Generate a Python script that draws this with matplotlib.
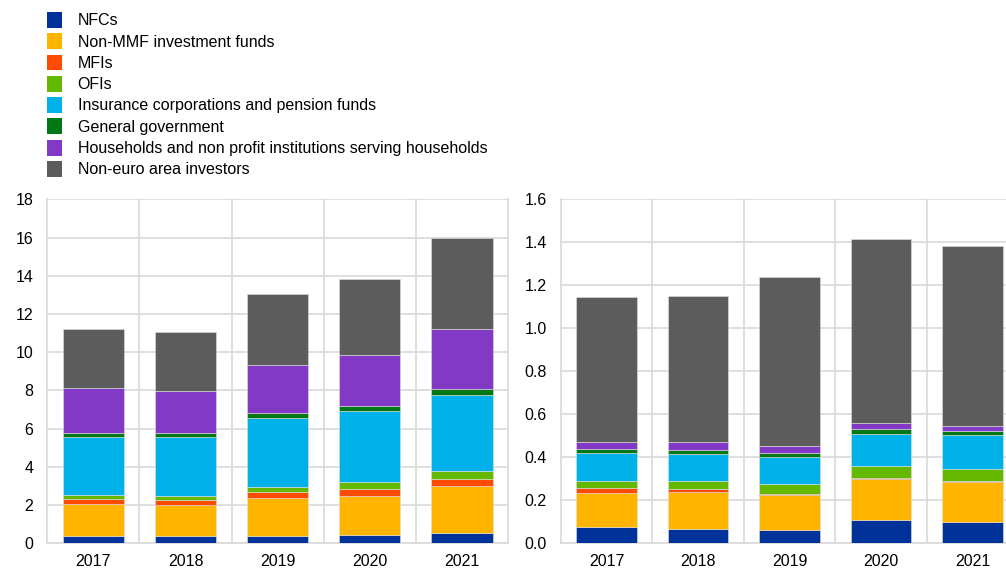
import numpy as np
import matplotlib
matplotlib.use('Agg')
import matplotlib.pyplot as plt
from matplotlib.patches import Patch

plt.rcParams['font.family'] = ['Liberation Sans', 'DejaVu Sans']

years = ['2017', '2018', '2019', '2020', '2021']
sectors = ['NFCs', 'Non-MMF investment funds', 'MFIs', 'OFIs',
           'Insurance corporations and pension funds', 'General government',
           'Households and non profit institutions serving households',
           'Non-euro area investors']
colors = ['#003299', '#FFB400', '#FF4B00', '#65B800', '#00B1EA', '#007816',
          '#8139C6', '#5C5C5C']

# left panel, per sector
left_nfc = [0.38, 0.37, 0.40, 0.44, 0.54]
left_nmmf = [1.66, 1.62, 1.95, 2.05, 2.46]
left_mfi = [0.28, 0.30, 0.32, 0.34, 0.35]
left_ofi = [0.19, 0.17, 0.26, 0.40, 0.42]
left_icpf = [3.05, 3.10, 3.61, 3.69, 3.97]
left_gg = [0.23, 0.23, 0.26, 0.28, 0.34]
left_hh = [2.34, 2.16, 2.51, 2.64, 3.12]
left_ne = [3.09, 3.11, 3.72, 4.01, 4.76]

# right panel, per sector
right_nfc = [0.076, 0.068, 0.062, 0.110, 0.098]
right_nmmf = [0.160, 0.171, 0.164, 0.188, 0.189]
right_mfi = [0.023, 0.014, 0.003, 0.006, 0.001]
right_ofi = [0.029, 0.035, 0.045, 0.054, 0.058]
right_icpf = [0.132, 0.128, 0.129, 0.151, 0.158]
right_gg = [0.017, 0.020, 0.017, 0.024, 0.017]
right_hh = [0.033, 0.034, 0.031, 0.025, 0.025]
right_ne = [0.676, 0.682, 0.786, 0.856, 0.838]

left_data = [left_nfc, left_nmmf, left_mfi, left_ofi, left_icpf, left_gg, left_hh, left_ne]
right_data = [right_nfc, right_nmmf, right_mfi, right_ofi, right_icpf, right_gg, right_hh, right_ne]

grid_col = '#d9d9d9'
fs = 11.5

fig = plt.figure(figsize=(10.06, 5.68), dpi=100)
ax1 = fig.add_axes([0.047, 0.0435, 0.458, 0.6056])
ax2 = fig.add_axes([0.5574, 0.0435, 0.4548, 0.6056])


def stacked(ax, data, ymax, step, fmt):
    x = np.arange(len(years))
    bottom = np.zeros(len(years))
    for vals, c in zip(data, colors):
        ax.bar(x, vals, bottom=bottom, width=0.665, color=c,
               edgecolor='#e0e0e0', linewidth=0.4, zorder=3)
        bottom += np.array(vals)
    ax.set_xlim(-0.5, len(years) - 0.5)
    ax.set_ylim(0, ymax)
    ax.set_yticks(np.arange(0, ymax + step / 2, step))
    ax.set_yticklabels([fmt.format(v) for v in np.arange(0, ymax + step / 2, step)])
    ax.set_xticks(x)
    ax.set_xticklabels(years)
    ax.set_xticks(np.arange(0.5, len(years) - 1, 1), minor=True)
    ax.grid(axis='y', which='major', color=grid_col, linewidth=1.2, zorder=0)
    ax.grid(axis='x', which='minor', color=grid_col, linewidth=1.2, zorder=0)
    ax.tick_params(axis='both', which='both', length=0, labelsize=fs)
    ax.tick_params(axis='y', pad=10)
    ax.tick_params(axis='x', pad=8)
    for s in ax.spines.values():
        s.set_color(grid_col)
        s.set_linewidth(1.2)
    ax.spines['top'].set_visible(False)


stacked(ax1, left_data, 18, 2, '{:.0f}')
stacked(ax2, right_data, 1.6, 0.2, '{:.1f}')

handles = [Patch(facecolor=c, edgecolor='none') for c in colors]
fig.legend(handles, sectors, loc='upper left', bbox_to_anchor=(0.047, 0.979),
           frameon=False, fontsize=fs, handlelength=0.9, handleheight=1.15,
           handletextpad=1.0, labelspacing=0.31, borderpad=0, borderaxespad=0)

fig.savefig('out.png', dpi=100)
